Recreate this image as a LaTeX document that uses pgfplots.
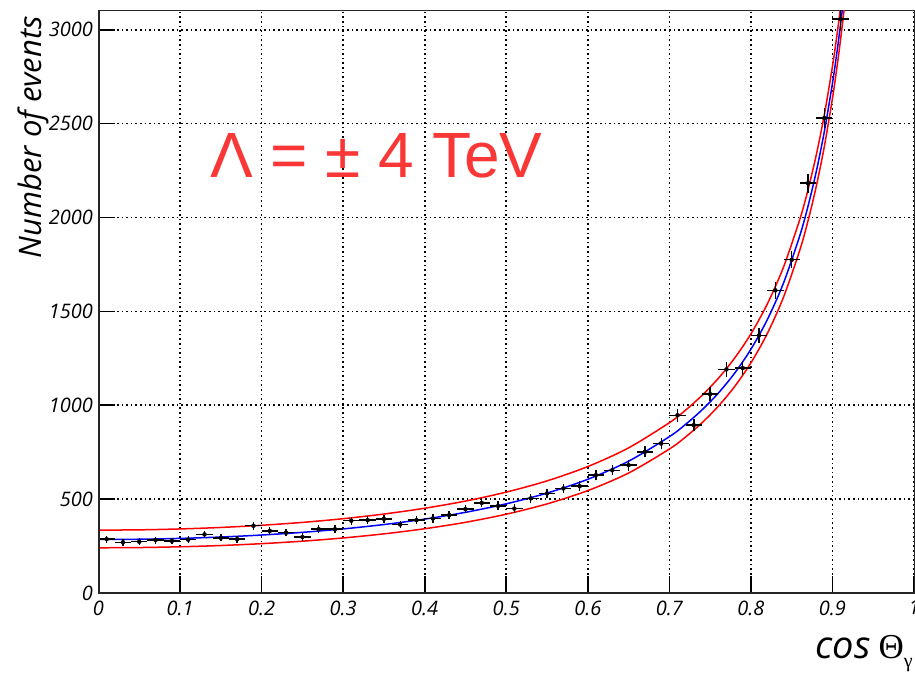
\documentclass[border=0pt]{standalone}
\usepackage{pgfplots}
\pgfplotsset{compat=1.18}
\usepackage{pgfplotstable}
\usepackage{fontspec}
\setmainfont{Open Sans}
\newfontfamily\arial{Liberation Sans}
\newfontfamily\serifgr{Liberation Serif}
\definecolor{lamred}{RGB}{250,55,55}

\pgfplotstableread{
x y ex ey
0.01 287 0.01 18.5
0.03 270 0.01 18.0
0.05 273 0.01 18.1
0.07 282 0.01 18.4
0.09 277 0.01 18.2
0.11 284 0.01 18.5
0.13 312 0.01 19.4
0.15 294 0.01 18.8
0.17 287 0.01 18.5
0.19 358 0.01 20.8
0.21 331 0.01 20.0
0.23 321 0.01 19.7
0.25 298 0.01 19.0
0.27 340 0.01 20.2
0.29 340 0.01 20.2
0.31 385 0.01 21.5
0.33 388 0.01 21.6
0.35 395 0.01 21.8
0.37 365 0.01 21.0
0.39 388 0.01 21.6
0.41 397 0.01 21.9
0.43 415 0.01 22.4
0.45 447 0.01 23.2
0.47 480 0.01 24.1
0.49 464 0.01 23.7
0.51 450 0.01 23.3
0.53 504 0.01 24.6
0.55 530 0.01 25.3
0.57 557 0.01 26.0
0.59 569 0.01 26.3
0.61 628 0.01 27.6
0.63 654 0.01 28.1
0.65 681 0.01 28.7
0.67 752 0.01 30.2
0.69 796 0.01 31.0
0.71 947 0.01 33.9
0.73 894 0.01 32.9
0.75 1059 0.01 35.8
0.77 1191 0.01 38.0
0.79 1198 0.01 38.1
0.81 1372 0.01 40.7
0.83 1612 0.01 44.1
0.85 1775 0.01 46.3
0.87 2183 0.01 51.4
0.89 2530 0.01 55.3
0.91 3057 0.01 60.8
}\datatable

\pgfplotstableread{
x mid up low
0.00 285.0 334.9 240.8
0.05 286.4 336.4 242.1
0.10 290.8 341.2 246.2
0.15 298.1 349.1 252.9
0.20 308.8 360.7 262.8
0.25 323.0 376.0 276.0
0.30 341.4 395.8 293.2
0.35 364.6 420.6 315.0
0.40 393.6 451.5 342.3
0.45 429.7 489.7 376.5
0.50 475.0 537.4 419.8
0.55 532.2 597.2 474.6
0.60 605.6 673.5 545.5
0.65 702.0 773.0 639.1
0.70 832.6 907.0 766.7
0.72 898.6 974.4 831.5
0.74 975.0 1052.2 906.6
0.76 1064.4 1143.1 994.7
0.78 1170.6 1250.9 1099.5
0.80 1298.3 1380.1 1225.8
0.82 1454.9 1538.4 1381.0
0.84 1651.2 1736.3 1575.8
0.86 1903.9 1990.7 1827.0
0.87 2059.7 2147.4 1982.0
0.88 2241.6 2330.1 2163.2
0.89 2456.7 2546.1 2377.5
0.90 2715.0 2805.3 2635.0
0.905 2864.6 2955.4 2784.2
0.91 3030.9 3122.1 2950.1
0.915 3216.8 3308.5 3135.6
0.92 3425.9 3518.0 3344.3
}\curvetable

\begin{document}
\begin{tikzpicture}
\begin{axis}[
  scale only axis,
  width=815.5pt, height=582pt,
  xmin=0, xmax=1, ymin=0, ymax=3100,
  xtick={0,0.1,0.2,0.3,0.4,0.5,0.6,0.7,0.8,0.9,1},
  xticklabels={0,0.1,0.2,0.3,0.4,0.5,0.6,0.7,0.8,0.9,1},
  ytick={0,500,1000,1500,2000,2500,3000},
  yticklabels={0,500,1000,1500,2000,2500,3000},
  minor tick num=0,
  tick pos=left,
  tick align=inside,
  major tick length=17pt,
  major tick style={line width=1.6pt, black},
  grid=major,
  major grid style={black, line width=1.6pt, dash pattern=on 1.6pt off 3pt},
  axis line style={line width=1pt, black!85},
  tick label style={font=\fontsize{20}{24}\selectfont\itshape, black},
  xticklabel style={yshift=-4pt},
  yticklabel style={xshift=-2pt},
  clip=true,
]
\addplot[red, line width=1.5pt, smooth] table[x=x, y=up] {\curvetable};
\addplot[red, line width=1.5pt, smooth] table[x=x, y=low] {\curvetable};
\addplot[blue, line width=1.5pt, smooth] table[x=x, y=mid] {\curvetable};
\addplot[black, only marks, mark=none,
  error bars/.cd, x dir=both, x explicit, y dir=both, y explicit,
  error mark=none, error bar style={line width=1.4pt, black, solid}]
  table[x=x, y=y, x error=ex, y error=ey] {\datatable};

\draw[line width=2pt, black!85] (rel axis cs:0,1) -- (rel axis cs:0,0) -- (rel axis cs:1,0);

\node[anchor=base west, inner sep=0pt, text=lamred, font=\arial\fontsize{64}{70}\selectfont]
  at (axis cs:0.1366,2211) {Λ = ± 4 TeV};

\coordinate (bl) at (rel axis cs:0,0);
\coordinate (tr) at (rel axis cs:1,1);
\end{axis}
\node[rotate=90, anchor=base east, inner sep=0pt, font=\fontsize{31}{35}\selectfont\itshape]
  at ([xshift=-56.5pt, yshift=-5pt]bl |- tr) {Number of events};
\node[anchor=base west, inner sep=0pt, font=\fontsize{38}{42}\selectfont\itshape]
  at ([xshift=717pt, yshift=-65pt]bl) {cos\hspace{8pt}{\serifgr\upshape\fontsize{35}{40}\selectfont Θ}\raisebox{-9pt}{\serifgr\upshape\fontsize{20}{22}\selectfont γ}};
\pgfresetboundingbox
\path[use as bounding box] ([xshift=-98.5pt, yshift=-79pt]bl) rectangle ([xshift=1pt, yshift=11pt]tr);
\end{tikzpicture}
\end{document}
